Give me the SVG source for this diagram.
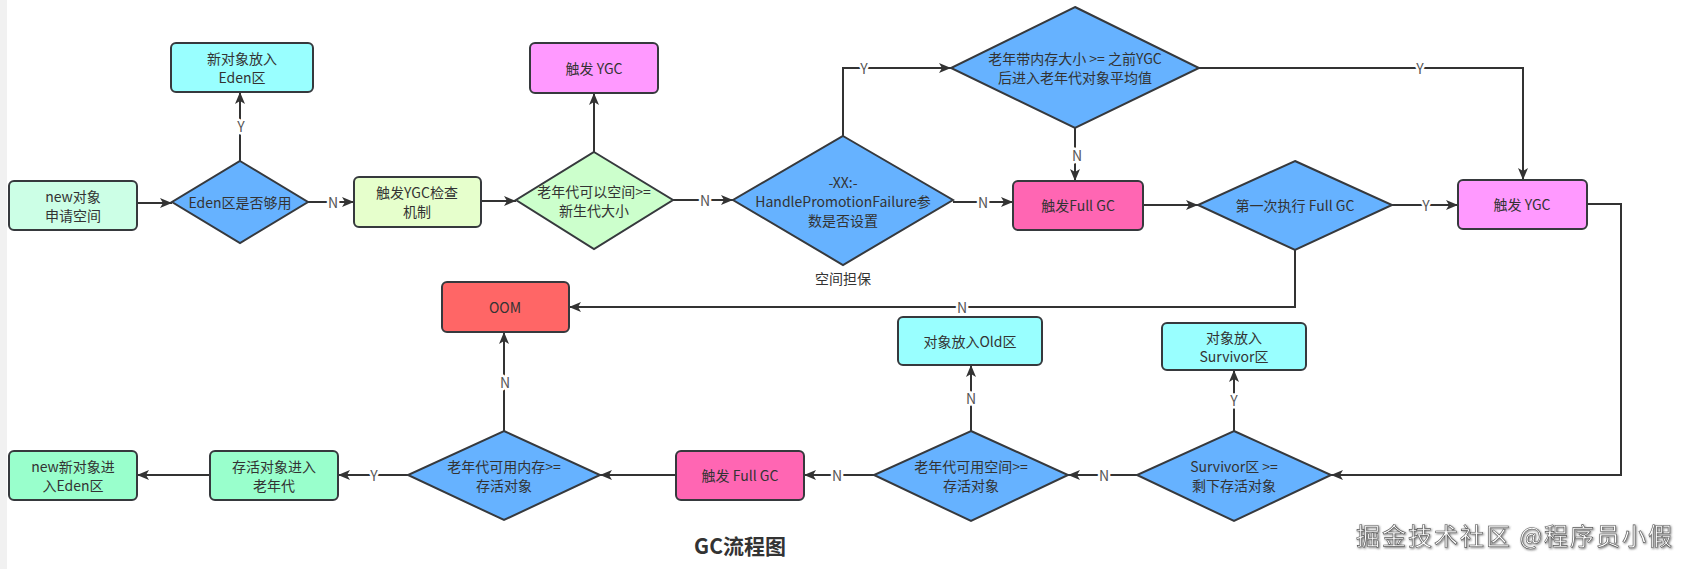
<svg xmlns="http://www.w3.org/2000/svg" width="1683" height="569" viewBox="0 0 1683 569">
<style>
text{font-family:"Noto Sans CJK SC","Microsoft YaHei",sans-serif;}
.box{stroke:#36393d;stroke-width:2;}
.dia{stroke:#36393d;stroke-width:2;fill:#66B2FF;}
.t{font-size:14px;fill:#333;text-anchor:middle;dominant-baseline:central;}
.e{fill:none;stroke:#333;stroke-width:2;marker-end:url(#arr);}
.lbl{font-size:14px;fill:#555;text-anchor:middle;dominant-baseline:central;stroke:#fff;stroke-width:5;paint-order:stroke;stroke-linejoin:round;}
.title{font-size:21px;font-weight:bold;fill:#333;text-anchor:middle;}
.wm{font-size:24px;fill:#fff;stroke:#555;stroke-width:0.6;letter-spacing:2px;filter:url(#sh);}
</style>
<defs>
<marker id="arr" markerUnits="userSpaceOnUse" markerWidth="13" markerHeight="10" refX="12" refY="5" orient="auto">
<path d="M0,0 L12,5 L0,10 L3,5 z" fill="#333"/>
</marker>
<filter id="sh" x="-5%" y="-20%" width="110%" height="150%">
<feDropShadow dx="1" dy="1" stdDeviation="0.8" flood-color="#555" flood-opacity="0.8"/>
</filter>
</defs>
<rect x="0" y="0" width="1683" height="569" fill="#fff"/>
<rect x="0" y="0" width="7" height="569" fill="#f1f1f1"/>

<g id="connectors">
<path class="e" d="M137,203 L172,203"/>
<path class="e" d="M240,161 L240,92"/>
<path class="e" d="M308,202 L354,202"/>
<path class="e" d="M481,201 L516,201"/>
<path class="e" d="M594,152 L594,93"/>
<path class="e" d="M673,200 L733,200"/>
<path class="e" d="M843,136 L843,68 L951,68"/>
<path class="e" d="M953,202 L1013,202"/>
<path class="e" d="M1075,128 L1075,181"/>
<path class="e" d="M1199,68 L1523,68 L1523,180"/>
<path class="e" d="M1143,205 L1198,205"/>
<path class="e" d="M1392,205 L1458,205"/>
<path class="e" d="M1295,250 L1295,307 L569,307"/>
<path class="e" d="M1587,204 L1621,204 L1621,475 L1331,475"/>
<path class="e" d="M1234,431 L1234,370"/>
<path class="e" d="M1137,475 L1068,475"/>
<path class="e" d="M971,431 L971,365"/>
<path class="e" d="M874,475 L804,475"/>
<path class="e" d="M676,475 L600,475"/>
<path class="e" d="M504,431 L504,332"/>
<path class="e" d="M408,475 L338,475"/>
<path class="e" d="M210,475 L137,475"/>
<text class="lbl" x="241" y="126">Y</text>
<text class="lbl" x="333" y="202">N</text>
<text class="lbl" x="705" y="200">N</text>
<text class="lbl" x="864" y="68">Y</text>
<text class="lbl" x="983" y="202">N</text>
<text class="lbl" x="1077" y="155">N</text>
<text class="lbl" x="1420" y="68">Y</text>
<text class="lbl" x="1426" y="205">Y</text>
<text class="lbl" x="962" y="307">N</text>
<text class="lbl" x="1234" y="400">Y</text>
<text class="lbl" x="1104" y="475">N</text>
<text class="lbl" x="971" y="398">N</text>
<text class="lbl" x="837" y="475">N</text>
<text class="lbl" x="505" y="382">N</text>
<text class="lbl" x="374" y="475">Y</text>
</g>

<g id="n_new"><rect class="box" x="9" y="181" width="128" height="49" rx="5" fill="#CCFFE6"/><text class="t" x="73" y="196">new对象</text><text class="t" x="73" y="215">申请空间</text></g>
<g id="d_eden"><path class="dia" d="M240,161 L308,202 L240,243 L172,202 Z"/><text class="t" x="240" y="202">Eden区是否够用</text></g>
<g id="n_eden_put"><rect class="box" x="171" y="43" width="142" height="49" rx="5" fill="#99FFFF"/><text class="t" x="242" y="58">新对象放入</text><text class="t" x="242" y="77">Eden区</text></g>
<g id="n_ygc_check"><rect class="box" x="354" y="177" width="127" height="50" rx="5" fill="#E6FFCC"/><text class="t" x="417" y="192">触发YGC检查</text><text class="t" x="417" y="211">机制</text></g>
<g id="d_old_space"><path class="dia" style="fill:#CCFFCC" d="M594,152 L673,200 L594,249 L516,200 Z"/><text class="t" x="594" y="191">老年代可以空间&gt;=</text><text class="t" x="594" y="210">新生代大小</text></g>
<g id="n_ygc1"><rect class="box" x="530" y="43" width="128" height="50" rx="5" fill="#FF99FF"/><text class="t" x="594" y="68">触发 YGC</text></g>
<g id="d_hp"><path class="dia" d="M843,136 L953,200 L843,265 L733,200 Z"/><text class="t" x="843" y="182">-XX:-</text><text class="t" x="843" y="201">HandlePromotionFailure参</text><text class="t" x="843" y="220">数是否设置</text><text class="t" x="843" y="278">空间担保</text></g>
<g id="d_avg"><path class="dia" d="M1075,7 L1199,68 L1075,128 L951,68 Z"/><text class="t" x="1075" y="58">老年带内存大小 &gt;= 之前YGC</text><text class="t" x="1075" y="77">后进入老年代对象平均值</text></g>
<g id="n_full1"><rect class="box" x="1013" y="181" width="130" height="49" rx="5" fill="#FF66B3"/><text class="t" x="1078" y="205">触发Full GC</text></g>
<g id="d_first"><path class="dia" d="M1295,161 L1392,205 L1295,250 L1198,205 Z"/><text class="t" x="1295" y="205">第一次执行 Full GC</text></g>
<g id="n_ygc2"><rect class="box" x="1458" y="180" width="129" height="49" rx="5" fill="#FF99FF"/><text class="t" x="1522" y="204">触发 YGC</text></g>
<g id="n_oom"><rect class="box" x="442" y="282" width="127" height="50" rx="5" fill="#FF6666"/><text class="t" x="505" y="307">OOM</text></g>
<g id="n_old_put"><rect class="box" x="898" y="317" width="144" height="48" rx="5" fill="#99FFFF"/><text class="t" x="970" y="341">对象放入Old区</text></g>
<g id="n_surv_put"><rect class="box" x="1162" y="323" width="144" height="47" rx="5" fill="#99FFFF"/><text class="t" x="1234" y="337">对象放入</text><text class="t" x="1234" y="356">Survivor区</text></g>
<g id="d_surv"><path class="dia" d="M1234,431 L1331,475 L1234,521 L1137,475 Z"/><text class="t" x="1234" y="466">Survivor区 &gt;=</text><text class="t" x="1234" y="485">剩下存活对象</text></g>
<g id="d_old_avail"><path class="dia" d="M971,431 L1068,475 L971,521 L874,475 Z"/><text class="t" x="971" y="466">老年代可用空间&gt;=</text><text class="t" x="971" y="485">存活对象</text></g>
<g id="n_full2"><rect class="box" x="676" y="451" width="128" height="49" rx="5" fill="#FF66B3"/><text class="t" x="740" y="475">触发 Full GC</text></g>
<g id="d_old_mem"><path class="dia" d="M504,431 L600,475 L504,520 L408,475 Z"/><text class="t" x="504" y="466">老年代可用内存&gt;=</text><text class="t" x="504" y="485">存活对象</text></g>
<g id="n_survive_old"><rect class="box" x="210" y="451" width="128" height="49" rx="5" fill="#99FFCC"/><text class="t" x="274" y="466">存活对象进入</text><text class="t" x="274" y="485">老年代</text></g>
<g id="n_new_eden"><rect class="box" x="9" y="451" width="128" height="49" rx="5" fill="#99FFCC"/><text class="t" x="73" y="466">new新对象进</text><text class="t" x="73" y="485">入Eden区</text></g>

<text class="title" x="740" y="554">GC流程图</text>
<text class="wm" x="1356" y="545">掘金技术社区 @程序员小假</text>
</svg>
